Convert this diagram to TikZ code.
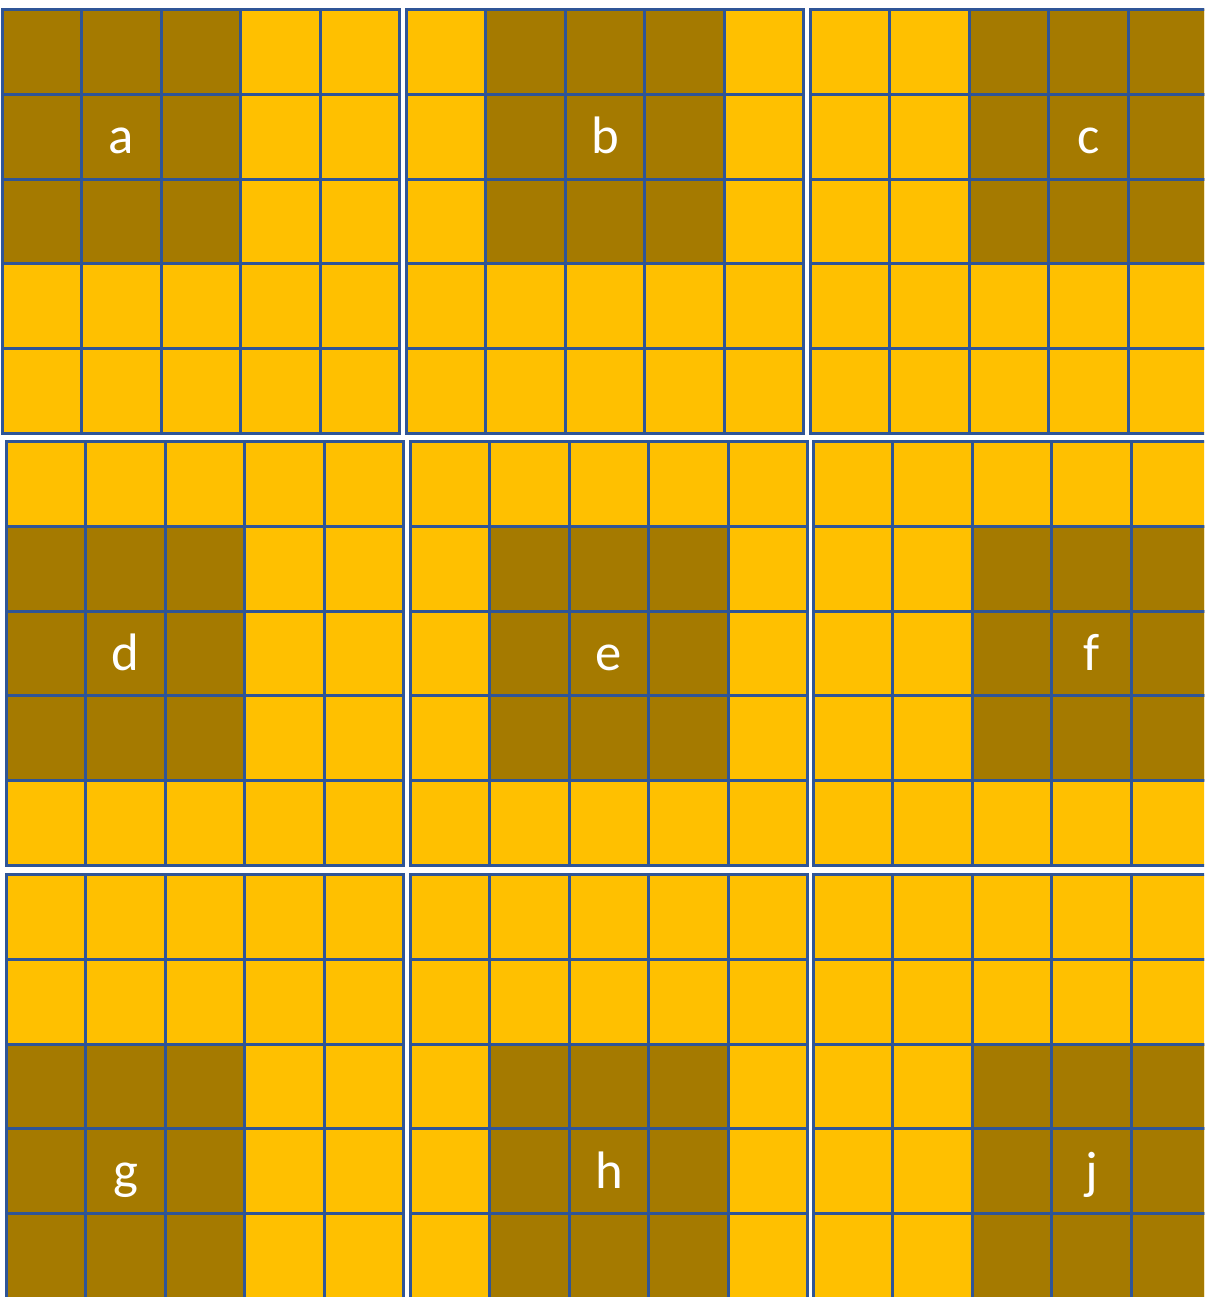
\documentclass[tikz,border=0pt]{standalone}
\usepackage{fontspec}
\setmainfont{Carlito}
\usepackage{xcolor}
\definecolor{amber}{HTML}{FFC000}
\definecolor{bronze}{HTML}{A57A00}
\definecolor{gridblue}{HTML}{2F5597}

\begin{document}
\begin{tikzpicture}[
  x=0.02cm, y=-0.02cm,
  cell/.style={rectangle, sharp corners, anchor=north west, inner sep=0pt,
    draw=gridblue, line width=1.7pt, fill=amber,
    minimum width=1.588cm, minimum height=1.696cm},
  hot/.style={cell, fill=bronze},
  tag/.style={text=white, inner sep=0pt, anchor=base, yshift=-0.34cm,
    font=\fontsize{30}{30}\selectfont}
]
\useasboundingbox (0,0) rectangle (1204,1297);
\clip (0,0) rectangle (1204,1297);

%% Nine 5x5 grids: name / left / top / first dark column / first dark row
\foreach \name/\px/\py/\cx/\cy in {
    a/1/8/0/0,     b/405/8/1/0,   c/809/8/2/0,
    d/5/440/0/1,   e/409/440/1/1, f/812/440/2/1,
    g/5/873/0/2,   h/409/873/1/2, j/812/873/2/2} {
  %% plain cells
  \foreach \i in {0,...,4}
    \foreach \k in {0,...,4}
      \node[cell] (\name-\i-\k) at (\px+\i*79.4, \py+\k*84.8) {};
  %% dark 3x3 block
  \foreach \i in {0,1,2}
    \foreach \k in {0,1,2} {
      \pgfmathtruncatemacro\ci{\cx+\i}
      \pgfmathtruncatemacro\ck{\cy+\k}
      \node[hot] (\name-\ci-\ck) at (\px+\ci*79.4, \py+\ck*84.8) {};
    }
  %% label in the middle of the block
  \pgfmathtruncatemacro\mi{\cx+1}
  \pgfmathtruncatemacro\mk{\cy+1}
  \node[tag] (lbl-\name) at (\name-\mi-\mk.center) {\name};
}

\end{tikzpicture}
\end{document}
